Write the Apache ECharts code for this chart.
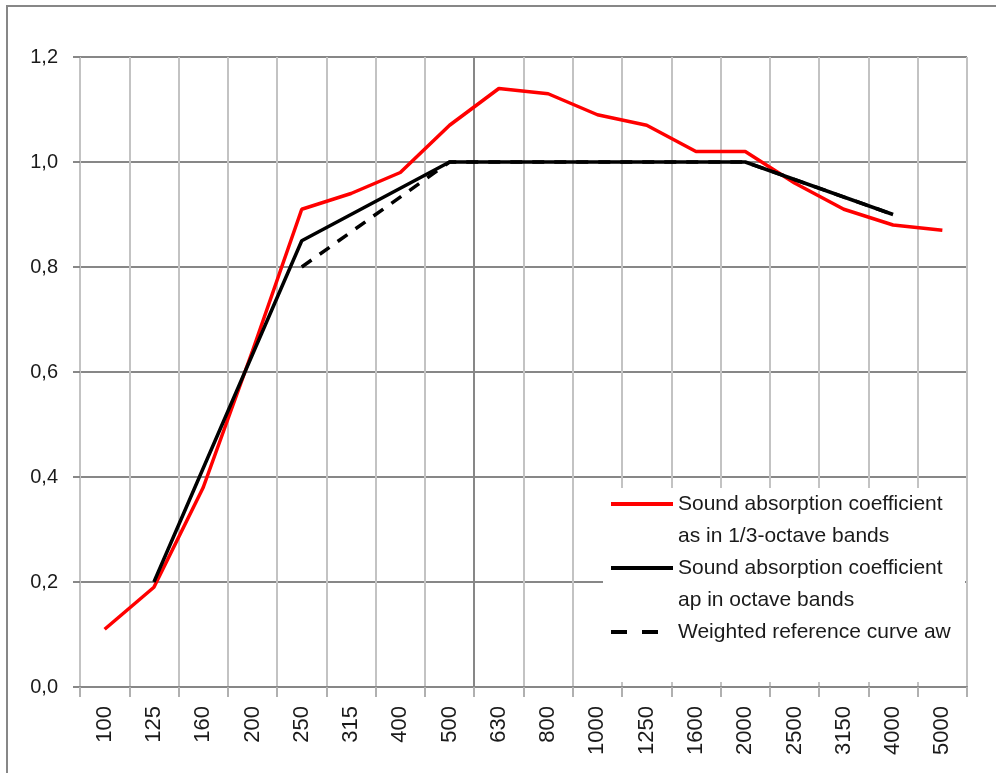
<!DOCTYPE html>
<html><head><meta charset="utf-8">
<script src="https://cdn.jsdelivr.net/npm/echarts@6/dist/echarts.min.js"></script>
<style>html,body{margin:0;padding:0;background:#fff}#c{width:996px;height:773px}</style>
</head><body><div id="c"></div>
<script>
const categories = ['100','125','160','200','250','315','400','500','630','800','1000','1250','1600','2000','2500','3150','4000','5000'];
const thirdOctave = [0.11,0.19,0.38,0.64,0.91,0.94,0.98,1.07,1.14,1.13,1.09,1.07,1.02,1.02,0.96,0.91,0.88,0.87];
const octave = [null,0.20,null,null,0.85,null,null,1.00,null,null,1.00,null,null,1.00,null,null,0.90,null];
const reference = [null,null,null,null,0.80,null,null,1.00,null,null,1.00,null,null,1.00,null,null,0.90,null];
const seriesNames = [
  'Sound absorption coefficient\nas in 1/3-octave bands',
  'Sound absorption coefficient\nap in octave bands',
  'Weighted reference curve aw'
];

const FONT = 'Liberation Sans';
const vColors = [];
for (let i = 0; i <= categories.length; i++) vColors.push(i === 8 ? '#878787' : '#c3c3c3');

const SOLID_ICON = 'path://M0,0H62V4H0Z';
const DASH_ICON = 'path://M0,0H16V4H0Z M31,0H47V4H31Z M62,2';

const chart = echarts.init(document.getElementById('c'), null, {renderer: 'canvas'});
chart.setOption({
  animation: false,
  backgroundColor: '#fff',
  grid: {left: 80, right: 29, top: 57, bottom: 86, containLabel: false},
  xAxis: {
    type: 'category',
    data: categories,
    boundaryGap: true,
    axisLine: {show: true, lineStyle: {color: '#878787', width: 2}},
    axisTick: {show: true, interval: 0, length: 10, lineStyle: {color: '#b0b0b0', width: 2}},
    axisLabel: {interval: 0, rotate: 90, margin: 19, fontFamily: FONT, fontSize: 22, color: '#1a1a1a'},
    splitLine: {show: true, interval: 0, lineStyle: {color: vColors, width: 2}}
  },
  yAxis: {
    type: 'value',
    min: 0, max: 1.2, interval: 0.2,
    axisLine: {show: false},
    axisTick: {show: true, length: 7, lineStyle: {color: '#878787', width: 2}},
    axisLabel: {margin: 22, fontFamily: FONT, fontSize: 20, color: '#1a1a1a',
      formatter: v => v.toFixed(1).replace('.', ',')},
    splitLine: {show: true, lineStyle: {color: '#878787', width: 2}}
  },
  legend: {
    orient: 'vertical',
    left: 611, top: 456,
    padding: 0,
    itemWidth: 62, itemHeight: 4,
    itemGap: -32,
    textStyle: {fontFamily: FONT, fontSize: 21, lineHeight: 32, color: '#1a1a1a'},
    formatter: name => ' \n' + name + (name.indexOf('\n') >= 0 ? '' : '\n '),
    data: [
      {name: seriesNames[0], icon: SOLID_ICON},
      {name: seriesNames[1], icon: SOLID_ICON},
      {name: seriesNames[2], icon: DASH_ICON}
    ]
  },
  graphic: [
    {type: 'rect', z: 1, shape: {x: 603, y: 488, width: 362, height: 194}, style: {fill: '#fff'}},
    {type: 'rect', z: 10, shape: {x: 7, y: 6, width: 1200, height: 1000}, style: {fill: 'none', stroke: '#878787', lineWidth: 2}}
  ],
  series: [
    {name: seriesNames[0], type: 'line', data: thirdOctave, showSymbol: false, symbol: 'none',
      lineStyle: {color: '#ff0000', width: 3.5}, itemStyle: {color: '#ff0000'}},
    {name: seriesNames[1], type: 'line', data: octave, connectNulls: true, showSymbol: false, symbol: 'none',
      lineStyle: {color: '#000', width: 3.5}, itemStyle: {color: '#000'}},
    {name: seriesNames[2], type: 'line', data: reference, connectNulls: true, showSymbol: false, symbol: 'none',
      lineStyle: {color: '#000', width: 3.5, type: [12, 10]}, itemStyle: {color: '#000'}}
  ]
});
</script></body></html>
